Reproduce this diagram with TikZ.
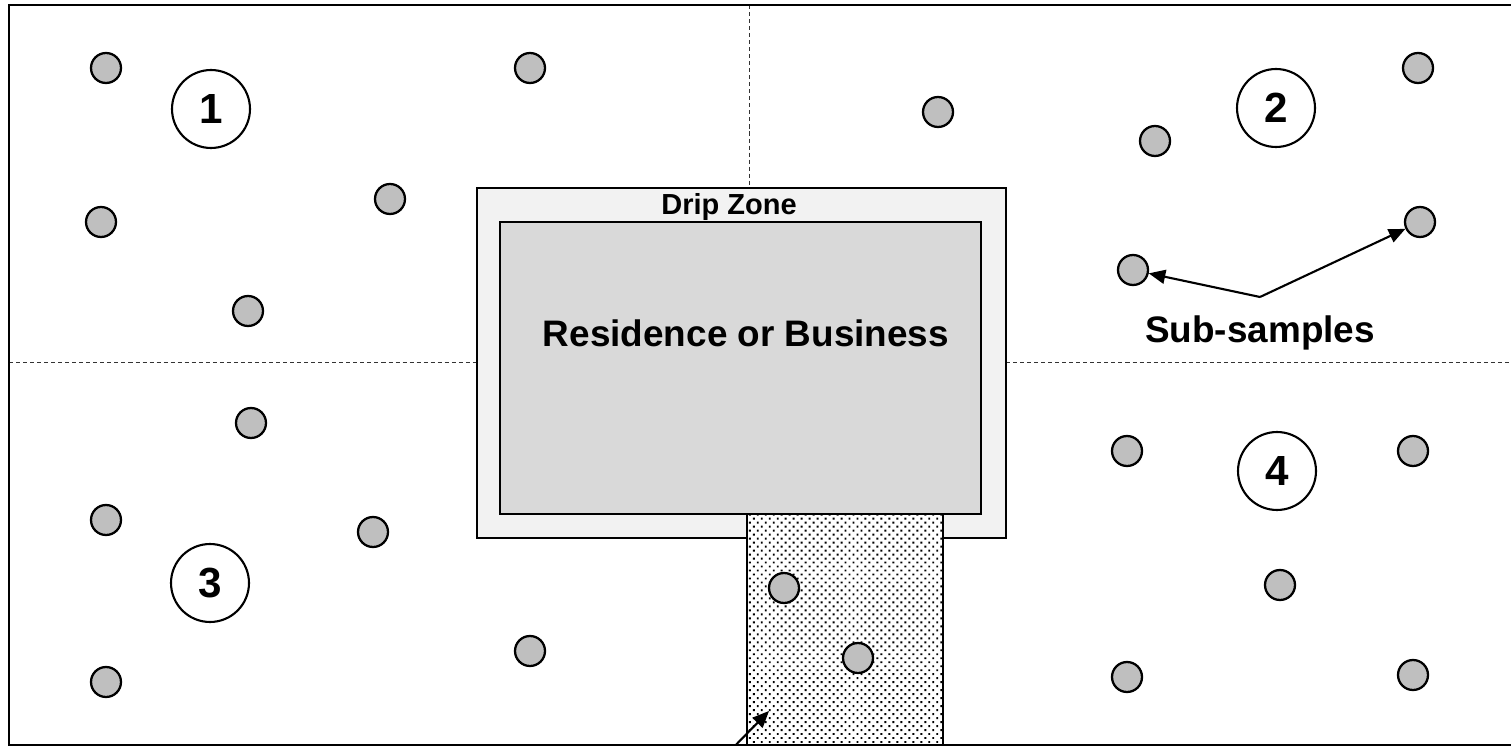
\documentclass[tikz,border=0pt]{standalone}
\usepackage{fontspec}
\setmainfont{Liberation Sans}
\usetikzlibrary{arrows.meta,patterns}

\pgfdeclarepatternformonly{walkdots}{\pgfqpoint{-1pt}{-1pt}}{\pgfqpoint{4pt}{4pt}}{\pgfqpoint{4.54pt}{4.54pt}}%
{\pgfpathrectangle{\pgfqpoint{-0.55pt}{-0.55pt}}{\pgfqpoint{1.1pt}{1.1pt}}%
 \pgfpathrectangle{\pgfqpoint{1.72pt}{1.72pt}}{\pgfqpoint{1.1pt}{1.1pt}}%
 \pgfusepath{fill}}

\begin{document}
\begin{tikzpicture}[x=0.02cm, y=-0.02cm,
  sample/.style={circle, draw, line width=1.3pt, fill=black!25, minimum size=0.6cm, inner sep=0pt},
  zone/.style={circle, draw, line width=1.2pt, fill=white, minimum size=1.56cm, inner sep=0pt, font=\bfseries\fontsize{24}{28}\selectfont},
  lbl/.style={font=\bfseries\fontsize{21}{25}\selectfont},
  divider/.style={dash pattern=on 2.3pt off 1.7pt, line width=0.5pt, black!80},
  pointer/.style={-{Stealth[length=3.3mm, width=2.8mm, inset=0pt]}, line width=1.2pt}]
\useasboundingbox (0,0) rectangle (1511,746);
\clip (0,0) rectangle (1511,746);
\fill[white] (0,0) rectangle (1511,746);
% quarter lines
\draw[divider] (749,5) -- (749,188);
\draw[divider] (9,362) -- (477,362);
\draw[divider] (1006,362) -- (1515,362);
% house, drip zone and walk
\draw[line width=1.3pt, fill=black!5] (477,188) rectangle (1006,538);
\draw[line width=1.5pt, fill=black!15] (500,222) rectangle (981,514);
\fill[white] (747,514) rectangle (943,760);
\fill[pattern=walkdots] (747,514) rectangle (943,760);
\draw[line width=1.3pt] (747,514) rectangle (943,760);
\node[font=\bfseries\fontsize{16.5}{20}\selectfont] (drip) at (729,207) {Drip Zone};
\node[lbl] (house) at (746,333) {Residence or Business};
% outer frame
\draw[line width=1.7pt] (9,5) rectangle (1530,745);
% quarters
\node[zone] (Q1) at (211,109) {1};
\node[zone] (Q2) at (1276,108) {2};
\node[zone] (Q3) at (210,583) {3};
\node[zone] (Q4) at (1277,471) {4};
% sub-samples
\node[sample] (S1) at (106,68) {};
\node[sample] (S2) at (530,68) {};
\node[sample] (S3) at (101,222) {};
\node[sample] (S4) at (390,199) {};
\node[sample] (S5) at (248,311) {};
\node[sample] (S6) at (938,112) {};
\node[sample] (S7) at (1155,141) {};
\node[sample] (S8) at (1418,68) {};
\node[sample] (S9) at (1420,222) {};
\node[sample] (S10) at (1133,270) {};
\node[sample] (S11) at (251,423) {};
\node[sample] (S12) at (106,520) {};
\node[sample] (S13) at (373,532) {};
\node[sample] (S14) at (530,651) {};
\node[sample] (S15) at (106,682) {};
\node[sample] (S16) at (1127,451) {};
\node[sample] (S17) at (1413,451) {};
\node[sample] (S18) at (1280,585) {};
\node[sample] (S19) at (1127,677) {};
\node[sample] (S20) at (1413,675) {};
\node[sample] (S21) at (784,588) {};
\node[sample] (S22) at (858,658) {};
% label with pointers
\node[lbl] (sub) at (1260,333) {Sub-samples};
\coordinate (fork) at (1260,297);
\draw[pointer] (fork) -- (S10);
\draw[pointer] (fork) -- (S9);
\coordinate (walktail) at (726,755);
\coordinate (walkhead) at (769,711);
\draw[pointer] (walktail) -- (walkhead);
\end{tikzpicture}
\end{document}
